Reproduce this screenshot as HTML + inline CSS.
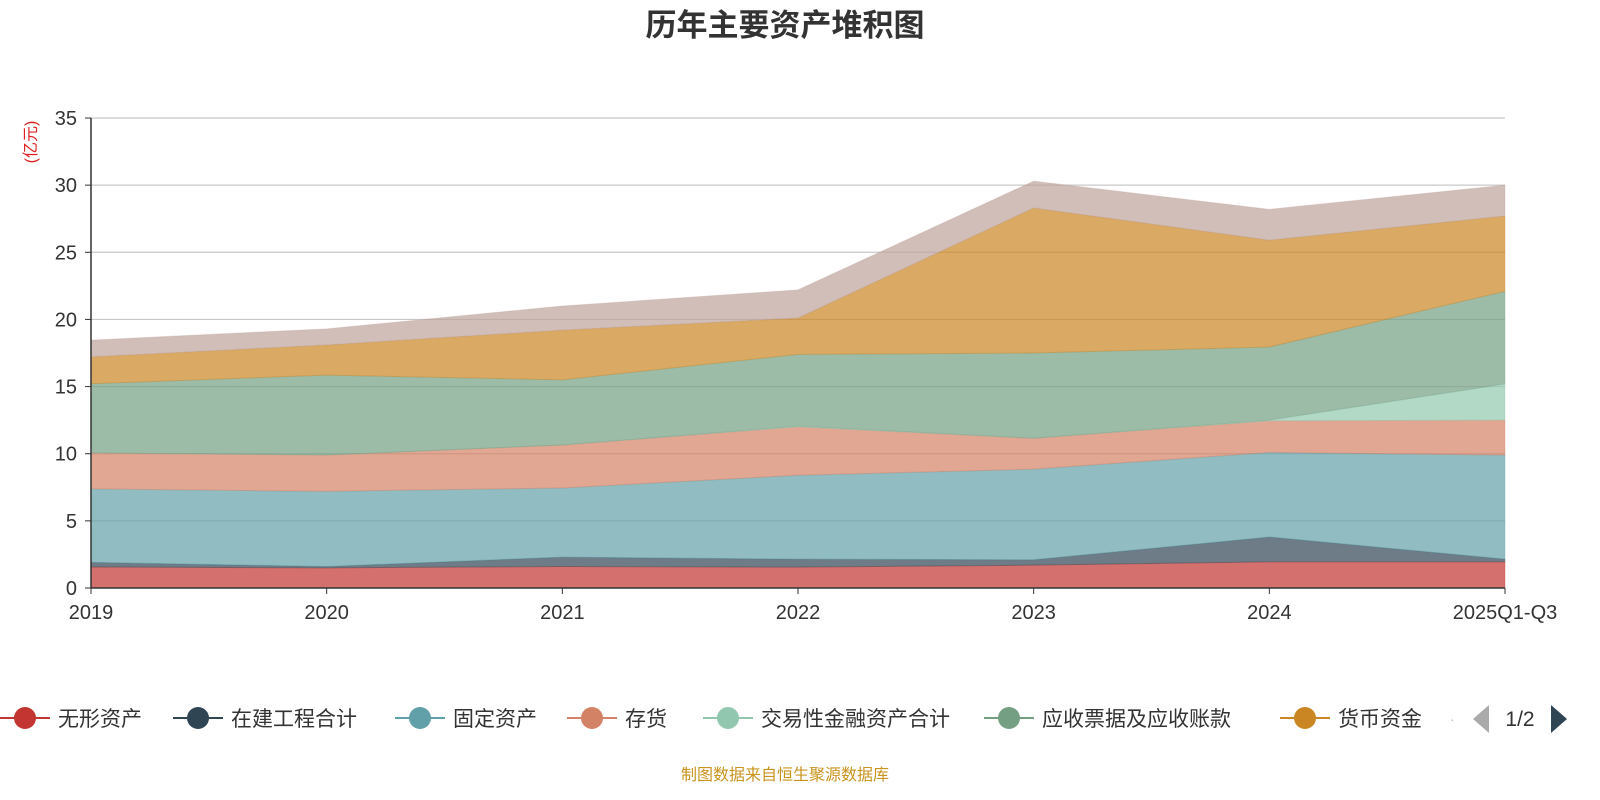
<!DOCTYPE html>
<html><head><meta charset="utf-8"><style>
body{margin:0;background:#fff;}
svg{display:block;font-family:"Liberation Sans","Noto Sans CJK SC",sans-serif;}
</style></head><body>
<svg width="1600" height="800">
<text x="785" y="36" text-anchor="middle" font-size="31" font-weight="bold" fill="#333">历年主要资产堆积图</text>
<text transform="translate(36,142) rotate(-90)" text-anchor="middle" font-size="16" fill="#e02020">(亿元)</text>
<g id="grid"></g><g id="areas"></g><g id="axes"></g><g id="legend"></g>
<text x="785" y="780" text-anchor="middle" font-size="16" fill="#c8941e">制图数据来自恒生聚源数据库</text>
</svg>
<script>
const categories=["2019","2020","2021","2022","2023","2024","2025Q1-Q3"];
const seriesNames=["无形资产","在建工程合计","固定资产","存货","交易性金融资产合计","应收票据及应收账款","货币资金","其他"];
const intangible=[1.56,1.5,1.6,1.55,1.7,1.95,1.95];
const construction=[0.35,0.1,0.7,0.6,0.4,1.85,0.2];
const fixedAssets=[5.47,5.6,5.15,6.25,6.75,6.3,7.75];
const inventory=[2.68,2.7,3.2,3.6,2.3,2.35,2.6];
const tradingAssets=[0,0,0,0.05,0,0.05,2.7];
const receivables=[5.15,5.95,4.85,5.35,6.35,5.45,6.9];
const cash=[2.0,2.25,3.7,2.7,10.8,7.95,5.6];
const others=[1.25,1.2,1.8,2.1,2.0,2.3,2.3];
const yTicks=[0,5,10,15,20,25,30,35];
const series=[intangible,construction,fixedAssets,inventory,tradingAssets,receivables,cash,others];
const colors=["#c23531","#2f4554","#61a0a8","#d48265","#91c7ae","#749f83","#ca8622","#bda29a"];
const X0=91,X1=1505,Y0=588,Y1=118,YMAX=35;
const xs=i=>X0+(X1-X0)*i/(categories.length-1);
const ys=v=>Y0-(Y0-Y1)*v/YMAX;
const NS="http://www.w3.org/2000/svg";
function mk(t,a,p){const e=document.createElementNS(NS,t);for(const k in a)e.setAttribute(k,a[k]);p.appendChild(e);return e;}
const grid=document.getElementById('grid'),areas=document.getElementById('areas'),axes=document.getElementById('axes'),legend=document.getElementById('legend');
yTicks.forEach(t=>{
 if(t>0){const l=mk('line',{x1:X0,x2:X1,y1:ys(t),y2:ys(t),stroke:'#c8c8c8','stroke-width':1.2},grid);
 
 }
 const tx=mk('text',{x:X0-14,y:ys(t)+7,'text-anchor':'end','font-size':20,fill:'#333'},axes);tx.textContent=t;
 
 
 mk('line',{x1:X0-6,x2:X0,y1:ys(t),y2:ys(t),stroke:'#333'},axes);
});
let base=categories.map(()=>0);
series.forEach((s,si)=>{
 const top=base.map((b,i)=>b+s[i]);
 let d='M'+top.map((v,i)=>xs(i)+','+ys(v)).join(' L');
 for(let i=categories.length-1;i>=0;i--)d+=' L'+xs(i)+','+ys(base[i]);
 const p=mk('path',{d:d+'Z',fill:colors[si],'fill-opacity':0.7,stroke:colors[si],'stroke-opacity':0.3,'stroke-width':1},areas);
 
 
 base=top;
});
mk('line',{x1:X0,x2:X0,y1:Y1,y2:Y0,stroke:'#333','stroke-width':1.5},axes);
mk('line',{x1:X0,x2:X1,y1:Y0,y2:Y0,stroke:'#333','stroke-width':1.5},axes);
categories.forEach((c,i)=>{
 mk('line',{x1:xs(i),x2:xs(i),y1:Y0,y2:Y0+6,stroke:'#333'},axes);
 const tx=mk('text',{x:xs(i),y:Y0+31,'text-anchor':'middle','font-size':20,fill:'#333'},axes);tx.textContent=c;
 
 
});
const lx=[25,198,420,592,728,1009,1305];
lx.forEach((x,i)=>{
 const g=mk('g',{},legend);
 
 
 mk('line',{x1:x-25,x2:x+25,y1:718,y2:718,stroke:colors[i],'stroke-width':2},g);
 mk('circle',{cx:x,cy:718,r:11,fill:colors[i]},g);
 const t=mk('text',{x:x+33,y:726,'font-size':21,fill:'#333'},g);t.textContent=seriesNames[i];
});
const dot=mk('text',{x:1450,y:724,'font-size':14,fill:'#bbb'},legend);dot.textContent='·';
const pl=mk('path',{d:'M1489,705 L1489,733 L1473,719Z',fill:'#aaa'},legend);


const pg=mk('text',{x:1520,y:726,'font-size':21,fill:'#333','text-anchor':'middle'},legend);pg.textContent='1/2';


const pr=mk('path',{d:'M1551,705 L1551,733 L1567,719Z',fill:'#2f4554'},legend);


</script>
</body></html>
